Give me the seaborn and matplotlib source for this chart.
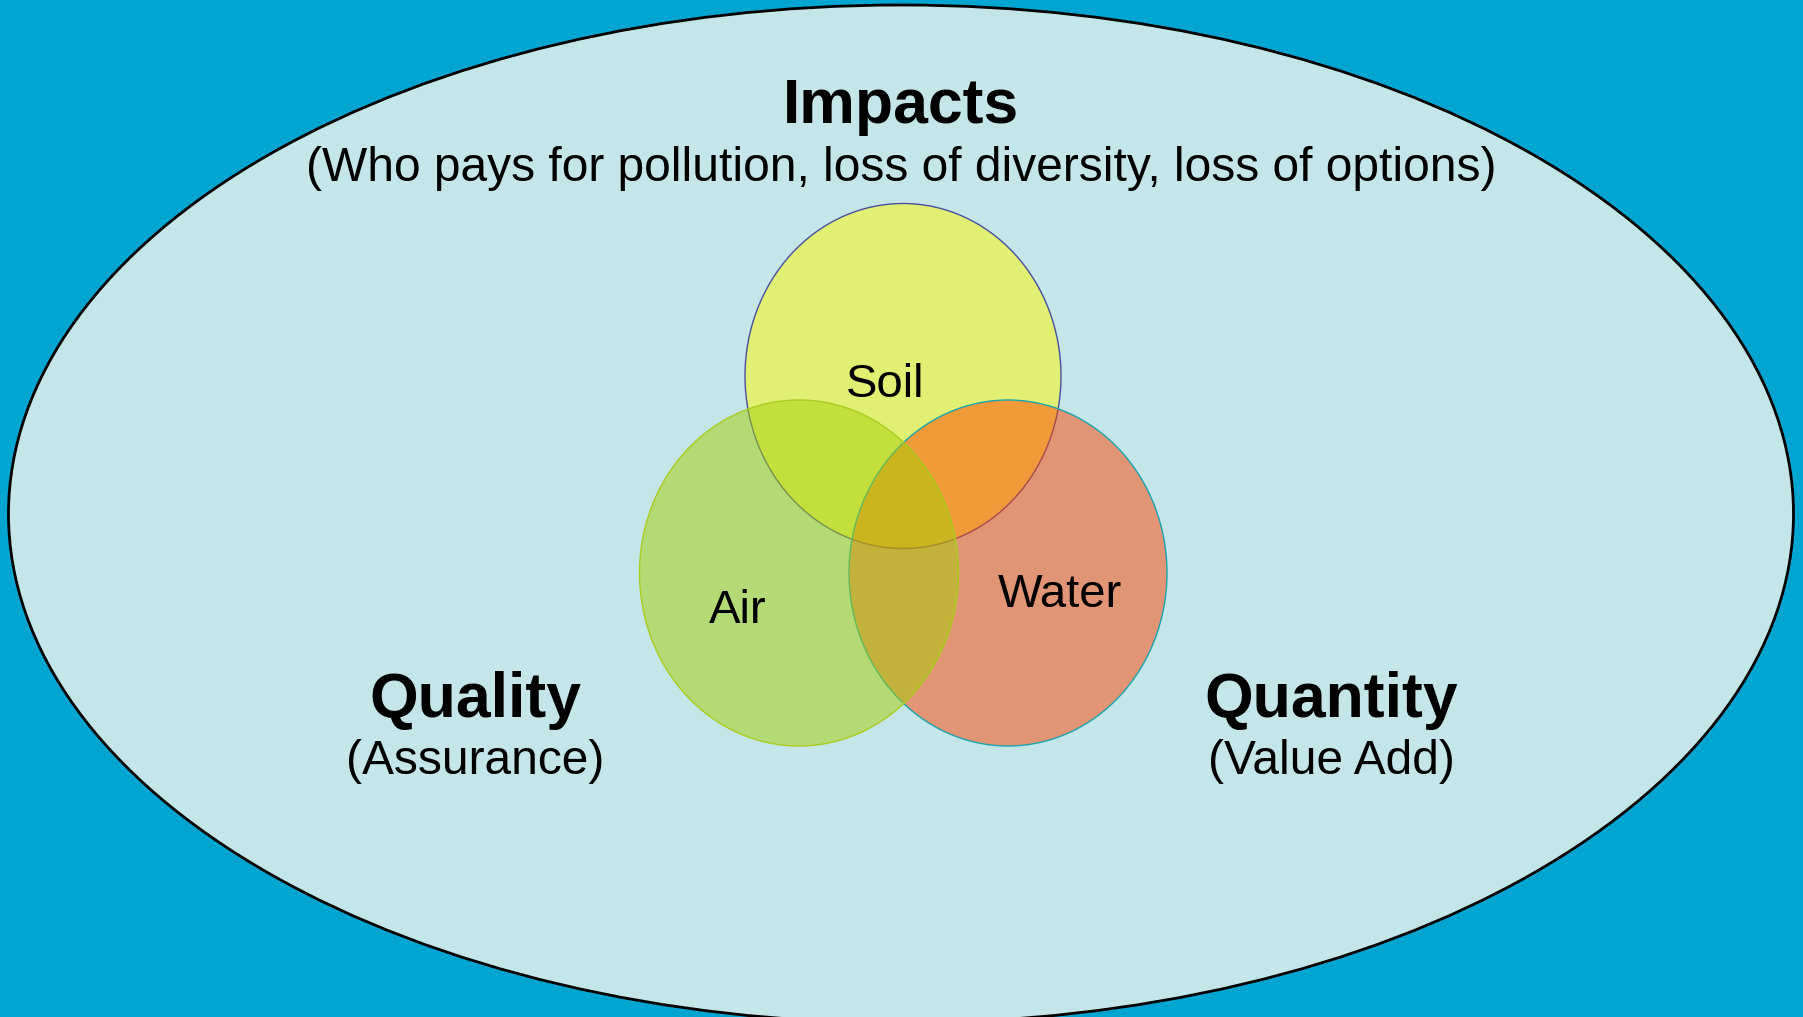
import numpy as np
import pandas as pd
import seaborn as sns
import matplotlib.pyplot as plt
from matplotlib.patches import Ellipse

# Diagram content (pixel space of the 1803x1017 slide)
circle_names = ["Soil", "Water", "Air"]          # drawing order: Soil bottom, Air on top
circle_x = [903, 1008, 799]
circle_y = [376, 573, 573]
circle_w = [316, 318, 319]
circle_h = [345, 346, 346]
circle_colors = ["#FFFA00", "#FF4602", "#A5D006"]
circle_edges = ["#4A4E9E", "#1AA3AE", "#A9CC1E"]

label_text = ["Soil", "Air", "Water"]
label_x = [885, 738, 1060]
label_y = [397, 623, 607]

outer_x, outer_y, outer_w, outer_h = 901, 514, 1785, 1018

sns.set_style("white")
plt.rcParams['font.family'] = ['Liberation Sans', 'DejaVu Sans']
plt.rcParams['text.color'] = 'black'

fig = plt.figure(figsize=(18.03, 10.17), dpi=100)
fig.patch.set_facecolor("#00A5D2")
ax = fig.add_axes([0, 0, 1, 1])
ax.set_xlim(0, 1803)
ax.set_ylim(1017, 0)
ax.set_facecolor("#00A5D2")
ax.axis("off")

# big outer ellipse
ax.add_patch(Ellipse((outer_x, outer_y), outer_w, outer_h,
                     facecolor="#C4E6E8", edgecolor="black", lw=2, zorder=1))

# venn circles
circles = pd.DataFrame({"name": circle_names, "x": circle_x, "y": circle_y,
                        "w": circle_w, "h": circle_h,
                        "color": circle_colors, "edge": circle_edges})
for i, row in circles.iterrows():
    ax.add_patch(Ellipse((row.x, row.y), row.w, row.h, facecolor=row.color,
                         alpha=0.5, edgecolor="none", zorder=2 + i))
    ax.add_patch(Ellipse((row.x, row.y), row.w, row.h, facecolor="none",
                         edgecolor=row.edge, lw=1.0, zorder=2 + i))

for t, x, y in zip(label_text, label_x, label_y):
    ax.text(x, y, t, fontsize=34, color="black", ha="center", va="baseline", zorder=10)

# titles
ax.text(901, 123, "Impacts", fontsize=45, fontweight="bold", color="black",
        ha="center", va="baseline")
ax.text(901, 181, "(Who pays for pollution, loss of diversity, loss of options)",
        fontsize=34.5, color="black", ha="center", va="baseline")
ax.text(475, 717, "Quality", fontsize=45, fontweight="bold", color="black",
        ha="center", va="baseline")
ax.text(475, 774, "(Assurance)", fontsize=34.5, color="black", ha="center", va="baseline")
ax.text(1331, 717, "Quantity", fontsize=45, fontweight="bold", color="black",
        ha="center", va="baseline")
ax.text(1331, 774, "(Value Add)", fontsize=34.5, color="black", ha="center", va="baseline")

plt.savefig("out.png", dpi=100, facecolor=fig.get_facecolor())
